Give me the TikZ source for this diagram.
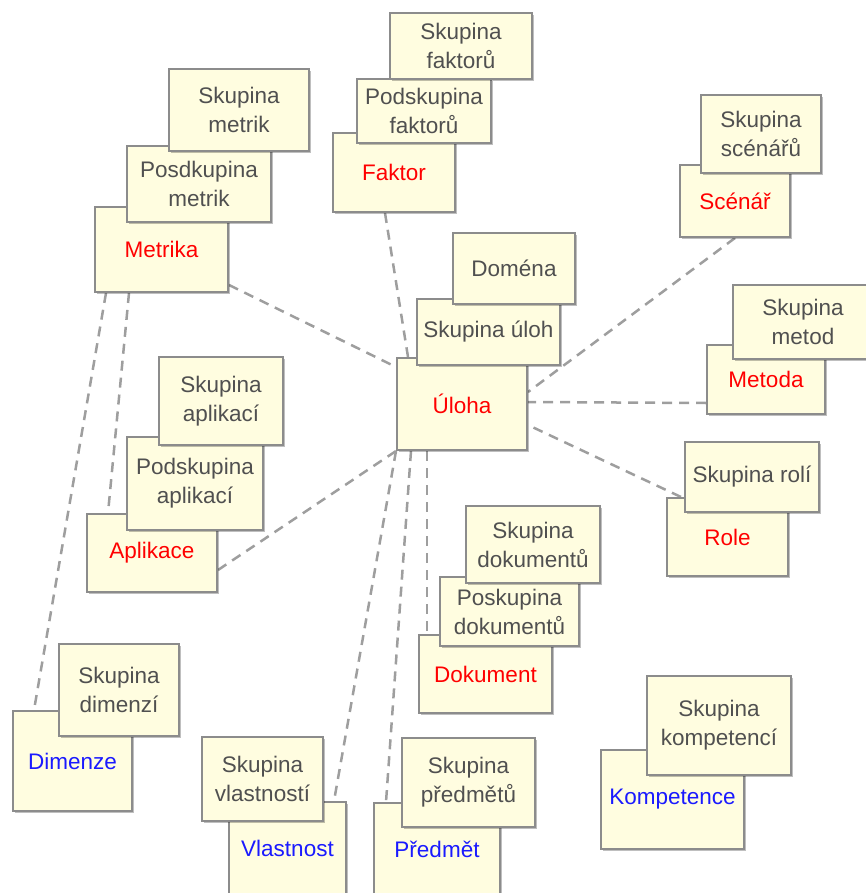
\documentclass[tikz,border=0pt]{standalone}
\usepackage{fontspec}
\setmainfont{Liberation Sans}
\usetikzlibrary{shadows,backgrounds}
\definecolor{boxfill}{HTML}{FFFDE0}
\definecolor{boxdraw}{HTML}{8C8C8C}
\definecolor{grptext}{HTML}{505050}
\definecolor{redtext}{HTML}{FF0000}
\definecolor{bluetext}{HTML}{1A1AFF}
\definecolor{linecol}{HTML}{9E9E9E}
\begin{document}
\begin{tikzpicture}[x=1pt,y=-1pt,
  bx/.style={draw=boxdraw, line width=2pt, fill=boxfill,
    drop shadow={shadow xshift=2pt,shadow yshift=-2pt,opacity=0.25,fill=black},
    font=\fontsize{22.5}{29}\selectfont, align=center, inner sep=0pt},
  grp/.style={bx, text=grptext},
  mainr/.style={bx, text=redtext},
  mainb/.style={bx, text=bluetext},
  link/.style={draw=linecol, line width=2.5pt, dash pattern=on 10pt off 7pt}]
\useasboundingbox (0,0) rectangle (866,893);
\clip (0,0) rectangle (866,893);

% Metrika stack
\node[mainr, minimum width=133, minimum height=85] (metrika) at (161.5,249.5) {Metrika};
\node[grp, minimum width=144, minimum height=76] (podmetrik) at (199,184) {Posdkupina\\metrik};
\node[grp, minimum width=140, minimum height=82] (skmetrik) at (239,110) {Skupina\\metrik};

% Faktor stack
\node[mainr, minimum width=122, minimum height=79] (faktor) at (394,172.5) {Faktor};
\node[grp, minimum width=134, minimum height=64] (podfaktor) at (424,111) {Podskupina\\faktorů};
\node[grp, minimum width=142, minimum height=66] (skfaktor) at (461,46) {Skupina\\faktorů};

% Uloha stack
\node[mainr, minimum width=130, minimum height=92] (uloha) at (462,404) {Úloha};
\node[grp, minimum width=143, minimum height=66] (skuloh) at (488.5,332) {Skupina úloh};
\node[grp, minimum width=122, minimum height=71] (domena) at (514,268.5) {Doména};

% Aplikace stack
\node[mainr, minimum width=130, minimum height=78] (aplikace) at (152,553) {Aplikace};
\node[grp, minimum width=136, minimum height=93] (podaplikaci) at (195,483.5) {Podskupina\\aplikací};
\node[grp, minimum width=124, minimum height=88] (skaplikaci) at (221,401) {Skupina\\aplikací};

% Dimenze stack
\node[mainb, minimum width=119, minimum height=100] (dimenze) at (72.5,761) {Dimenze};
\node[grp, minimum width=120, minimum height=92] (skdimenzi) at (119,690) {Skupina\\dimenzí};

% Vlastnost stack
\node[mainb, minimum width=117, minimum height=92] (vlastnost) at (287.5,848) {Vlastnost};
\node[grp, minimum width=121, minimum height=84] (skvlastnosti) at (262.5,779) {Skupina\\vlastností};

% Dokument stack
\node[mainr, minimum width=133, minimum height=78] (dokument) at (485.5,674) {Dokument};
\node[grp, minimum width=139, minimum height=69] (poddokumentu) at (509.5,611.5) {Poskupina\\dokumentů};
\node[grp, minimum width=134, minimum height=77] (skdokumentu) at (533,544.5) {Skupina\\dokumentů};

% Predmet stack
\node[mainb, minimum width=126, minimum height=92] (predmet) at (437,849) {Předmět};
\node[grp, minimum width=133, minimum height=89] (skpredmetu) at (468.5,782.5) {Skupina\\předmětů};

% Scenar stack
\node[mainr, minimum width=110, minimum height=72] (scenar) at (735,201) {Scénář};
\node[grp, minimum width=120, minimum height=78] (skscenaru) at (761,134) {Skupina\\scénářů};

% Metoda stack
\node[mainr, minimum width=118, minimum height=69] (metoda) at (766,379.5) {Metoda};
\node[grp, minimum width=140, minimum height=74] (skmetod) at (803,322) {Skupina\\metod};

% Role stack
\node[mainr, minimum width=121, minimum height=78] (role) at (727.5,537) {Role};
\node[grp, minimum width=134, minimum height=70] (skroli) at (752,477) {Skupina rolí};

% Kompetence stack
\node[mainb, minimum width=143, minimum height=99] (kompetence) at (672.5,799.5) {Kompetence};
\node[grp, minimum width=144, minimum height=99] (skkompetenci) at (719,725.5) {Skupina\\kompetencí};

\begin{scope}[on background layer]
\draw[link] ([xshift=12pt]metrika.south west) -- ([xshift=22pt]dimenze.north west);
\draw[link] ([xshift=35pt]metrika.south west) -- ([xshift=22pt]aplikace.north west);
\draw[link] ([yshift=8pt]metrika.south east) -- ([yshift=-10pt]uloha.north west);
\draw[link] ([xshift=-9pt]faktor.south) -- ([xshift=12pt]uloha.north west);
\draw[link] (scenar.south) -- ([yshift=12pt]uloha.east);
\draw[link] ([yshift=12pt]metoda.south west) -- ([yshift=2pt]uloha.east);
\draw[link] ([xshift=15pt]role.north west) -- ([yshift=-21pt]uloha.east);
\draw[link] ([yshift=-17pt]aplikace.east) -- (uloha.south west);
\draw[link] (uloha.south west) -- ([xshift=-13pt]vlastnost.north east);
\draw[link] ([xshift=15pt]uloha.south west) -- ([xshift=13pt]predmet.north west);
\draw[link] ([xshift=31pt]uloha.south west) -- ([xshift=9pt]dokument.north west);
\end{scope}
\end{tikzpicture}
\end{document}
